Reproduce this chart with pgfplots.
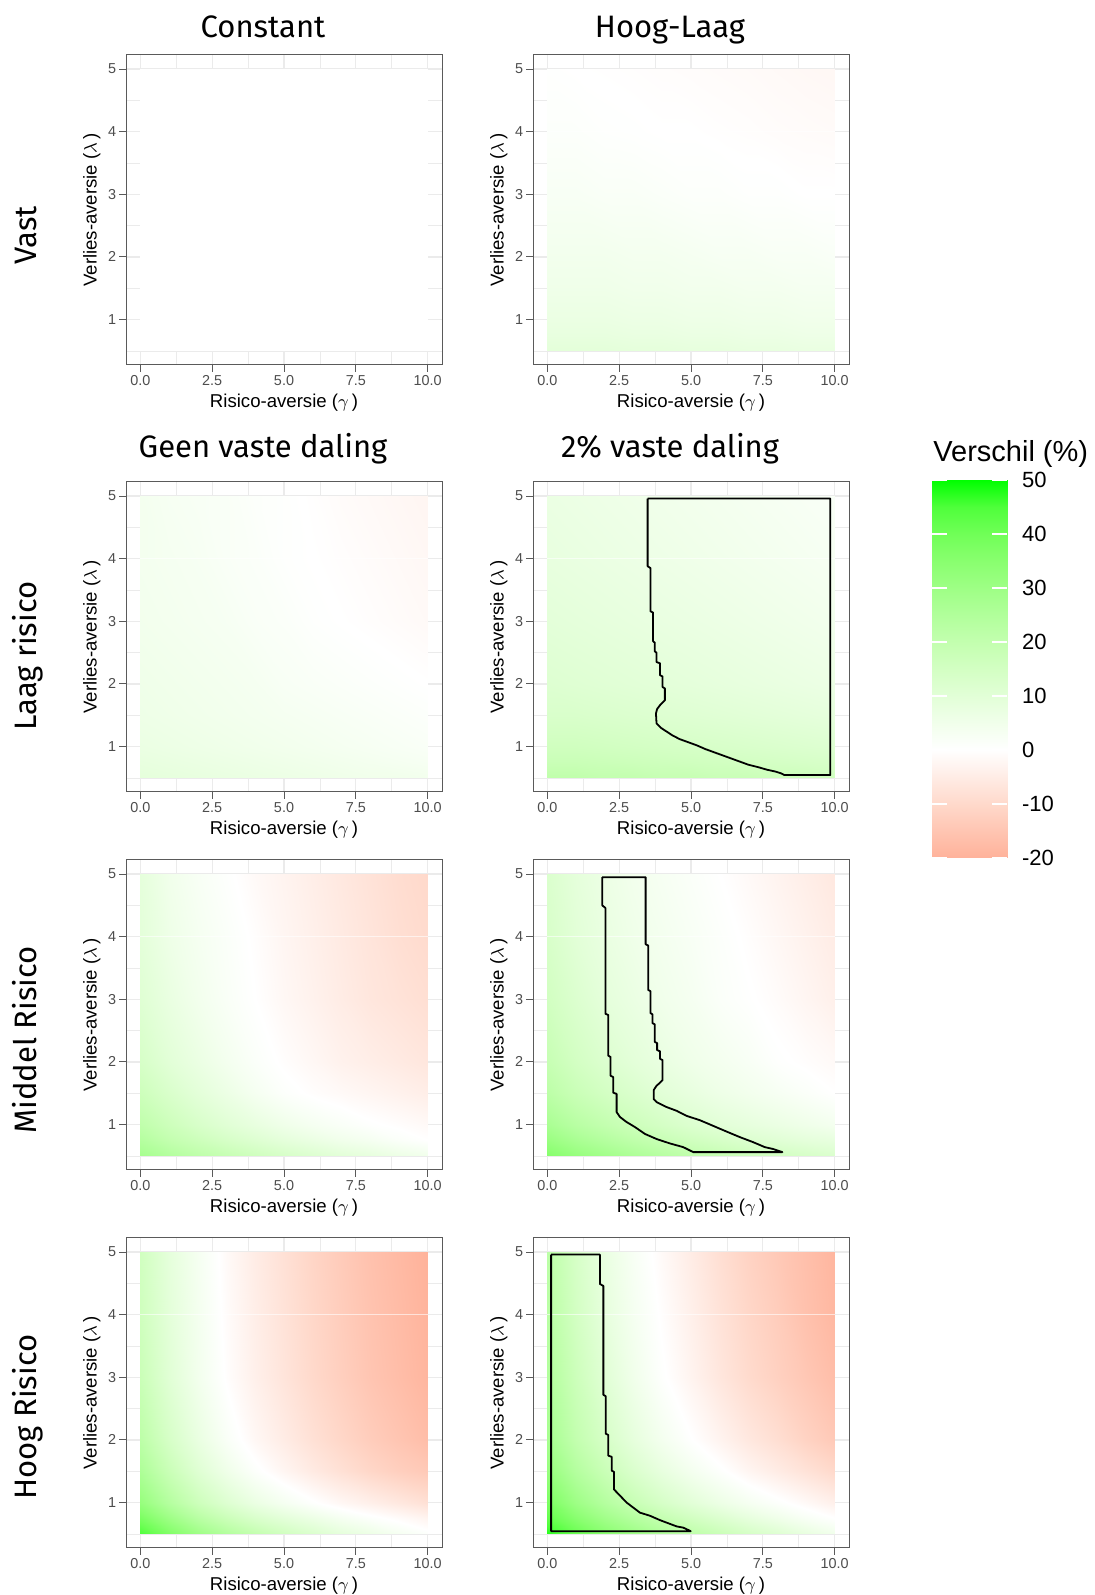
\documentclass[border=0pt]{standalone}
\usepackage{fontspec}
\setmainfont{Liberation Sans}
\newfontfamily\titlefont{Fira Sans}
\usepackage{pgfplots}
\pgfplotsset{compat=1.18}
\definecolor{gridgray}{RGB}{235,235,235}
\definecolor{tickgray}{RGB}{77,77,77}
\definecolor{bordergray}{RGB}{90,90,90}
\pgfplotsset{
 colormap={verschil}{rgb255(0pt)=(255,178,154) rgb255(5pt)=(255,197,178) rgb255(10pt)=(255,217,203) rgb255(15pt)=(255,236,229) rgb255(20pt)=(255,255,255) rgb255(25pt)=(241,255,235) rgb255(30pt)=(226,255,215) rgb255(35pt)=(211,255,195) rgb255(40pt)=(195,255,175) rgb255(45pt)=(177,255,155) rgb255(50pt)=(158,255,133) rgb255(55pt)=(137,255,111) rgb255(60pt)=(112,255,87) rgb255(65pt)=(79,255,59) rgb255(70pt)=(0,255,0)},
 panel/.style={
  scale only axis, width=158pt, height=155pt, anchor=south west,
  xmin=-0.5, xmax=10.5, ymin=0.275, ymax=5.225,
  xtick={0,2.5,5,7.5,10}, xticklabels={0.0,2.5,5.0,7.5,10.0},
  ytick={1,2,3,4,5}, yticklabels={1,2,3,4,5},
  minor xtick={1.25,3.75,6.25,8.75}, minor ytick={0.5,1.5,2.5,3.5,4.5},
  grid=both, major grid style={line width=0.6pt, draw=gridgray}, minor grid style={line width=0.35pt, draw=gridgray},
  tick align=outside, tick pos=left, major tick length=3.5pt, minor tick length=0pt,
  major tick style={draw=bordergray, line width=0.5pt},
  axis line style={draw=bordergray, line width=0.5pt},
  /pgf/number format/assume math mode=true,
  ticklabel style={font=\fontsize{7.2}{8}\selectfont, text=tickgray},
  yticklabel style={inner sep=1.2pt},
  xticklabel style={inner sep=1.5pt},
  xlabel={Risico-aversie ($\gamma$\,)}, ylabel={Verlies-aversie ($\lambda$\,)},
  label style={font=\fontsize{9.3}{11}\selectfont},
  xlabel style={inner sep=1pt, yshift=-1.5pt}, ylabel style={inner sep=1pt, yshift=1.5pt},
  colormap name=verschil, point meta min=-20, point meta max=50,
 },
 heat/.style={surf, shader=interp, mesh/cols=11, point meta=explicit},
 cont/.style={black, line width=0.9pt, line join=round},
 seam/.style={white, opacity=0.6, line width=0.4pt},
}
\begin{document}
\begin{tikzpicture}
\path[use as bounding box] (0,0) rectangle (547.5pt,797.5pt);

% titles
\node[font=\titlefont\fontsize{15.5}{18}\selectfont, anchor=base] at (131.5pt,778.5pt) {Constant};
\node[font=\titlefont\fontsize{15.5}{18}\selectfont, anchor=base] at (335pt,778.5pt) {Hoog-Laag};
\node[font=\titlefont\fontsize{15.5}{18}\selectfont, anchor=base] at (131.5pt,568.5pt) {Geen vaste daling};
\node[font=\titlefont\fontsize{15.5}{18}\selectfont, anchor=base] at (335pt,568.5pt) {2\% vaste daling};
% row labels
\node[font=\titlefont\fontsize{15.5}{18}\selectfont, anchor=base, rotate=90] at (18pt,680pt) {Vast};
\node[font=\titlefont\fontsize{15.5}{18}\selectfont, anchor=base, rotate=90] at (18pt,469.5pt) {Laag risico};
\node[font=\titlefont\fontsize{15.5}{18}\selectfont, anchor=base, rotate=90] at (18pt,277.5pt) {Middel Risico};
\node[font=\titlefont\fontsize{15.5}{18}\selectfont, anchor=base, rotate=90] at (18pt,89pt) {Hoog Risico};

% Row 1 left: Constant / Vast
\begin{axis}[panel, at={(63pt,615pt)}]
\addplot[surf, shader=interp, mesh/cols=2, point meta=explicit] table[row sep=\\, meta=c] {x y c\\ 0 0.5 0\\ 10 0.5 0\\ 0 5 0\\ 10 5 0\\};
\addplot[seam] coordinates {(0,4) (10,4)};
\end{axis}

% Row 1 right: Hoog-Laag / Vast
\begin{axis}[panel, at={(266.5pt,615pt)}]
\addplot[heat] table[row sep=\\, meta=c] {x y c\\
0 0.5 9.5\\1 0.5 9.5\\2 0.5 9.5\\3 0.5 9\\4 0.5 9\\5 0.5 8.5\\6 0.5 8.5\\7 0.5 8\\8 0.5 8\\9 0.5 7.5\\10 0.5 7.5\\
0 0.75 8\\1 0.75 8\\2 0.75 8\\3 0.75 7.5\\4 0.75 7.5\\5 0.75 7\\6 0.75 7\\7 0.75 6.5\\8 0.75 6.5\\9 0.75 6\\10 0.75 6\\
0 1 7\\1 1 7\\2 1 7\\3 1 6.5\\4 1 6.5\\5 1 6\\6 1 6\\7 1 5.5\\8 1 5.5\\9 1 5\\10 1 5\\
0 1.5 5.5\\1 1.5 5.5\\2 1.5 5.5\\3 1.5 5\\4 1.5 5\\5 1.5 4.5\\6 1.5 4.5\\7 1.5 4\\8 1.5 4\\9 1.5 3.5\\10 1.5 3.5\\
0 2 4.5\\1 2 4.5\\2 2 4.5\\3 2 4\\4 2 4\\5 2 3.5\\6 2 3\\7 2 3\\8 2 2.5\\9 2 2.5\\10 2 2\\
0 3 2.5\\1 3 2.5\\2 3 2\\3 3 2\\4 3 1.5\\5 3 1\\6 3 1\\7 3 0.5\\8 3 0.5\\9 3 0\\10 3 0\\
0 4 1\\1 4 1\\2 4 0.5\\3 4 0.3\\4 4 0\\5 4 0\\6 4 -0.3\\7 4 -0.5\\8 4 -0.8\\9 4 -1\\10 4 -1.2\\
0 5 0.3\\1 5 0\\2 5 -0.2\\3 5 -0.4\\4 5 -0.6\\5 5 -0.8\\6 5 -1\\7 5 -1.2\\8 5 -1.5\\9 5 -1.8\\10 5 -2\\
};
\addplot[seam] coordinates {(0,4) (10,4)};
\end{axis}

% Row 2 left: Geen vaste daling / Laag risico
\begin{axis}[panel, at={(63pt,401.5pt)}]
\addplot[heat] table[row sep=\\, meta=c] {x y c\\
0 0.5 9\\1 0.5 8.5\\2 0.5 8\\3 0.5 7.5\\4 0.5 7\\5 0.5 6.5\\6 0.5 6\\7 0.5 5.5\\8 0.5 5\\9 0.5 5\\10 0.5 4.5\\
0 0.75 8\\1 0.75 7.5\\2 0.75 7\\3 0.75 6.5\\4 0.75 6\\5 0.75 5.5\\6 0.75 5\\7 0.75 4.5\\8 0.75 4\\9 0.75 3.5\\10 0.75 3\\
0 1 7\\1 1 6.5\\2 1 6\\3 1 5.5\\4 1 5\\5 1 4.5\\6 1 4\\7 1 3.5\\8 1 3\\9 1 2.5\\10 1 2\\
0 1.5 6\\1 1.5 5.5\\2 1.5 5\\3 1.5 4.5\\4 1.5 4\\5 1.5 3.5\\6 1.5 3\\7 1.5 2.5\\8 1.5 2\\9 1.5 1.5\\10 1.5 1\\
0 2 5.5\\1 2 5\\2 2 4.5\\3 2 4\\4 2 3.5\\5 2 2.5\\6 2 2\\7 2 1.5\\8 2 1\\9 2 0.5\\10 2 0\\
0 3 4.5\\1 3 4\\2 3 3.5\\3 3 3\\4 3 2\\5 3 1.5\\6 3 0.5\\7 3 0\\8 3 -0.5\\9 3 -1\\10 3 -1.5\\
0 4 4\\1 4 3.5\\2 4 3\\3 4 2\\4 4 1.5\\5 4 0.5\\6 4 0\\7 4 -0.5\\8 4 -1\\9 4 -1.5\\10 4 -2\\
0 5 4\\1 5 3\\2 5 2.5\\3 5 2\\4 5 1\\5 5 0.5\\6 5 -0.3\\7 5 -1\\8 5 -1.5\\9 5 -2\\10 5 -2.5\\
};
\addplot[seam] coordinates {(0,4) (10,4)};
\end{axis}

% Row 2 right: 2% vaste daling / Laag risico
\begin{axis}[panel, at={(266.5pt,401.5pt)}]
\addplot[heat] table[row sep=\\, meta=c] {x y c\\
0 0.5 21\\1 0.5 21\\2 0.5 20\\3 0.5 20\\4 0.5 19\\5 0.5 19\\6 0.5 18\\7 0.5 18\\8 0.5 17\\9 0.5 17\\10 0.5 16\\
0 0.75 18\\1 0.75 18\\2 0.75 17.5\\3 0.75 17\\4 0.75 16.5\\5 0.75 16\\6 0.75 15.5\\7 0.75 15\\8 0.75 14.5\\9 0.75 14\\10 0.75 13.5\\
0 1 16\\1 1 16\\2 1 15.5\\3 1 15\\4 1 14.5\\5 1 14\\6 1 13.5\\7 1 13\\8 1 12.5\\9 1 12\\10 1 11.5\\
0 1.5 13\\1 1.5 13\\2 1.5 12.5\\3 1.5 12\\4 1.5 11.5\\5 1.5 11\\6 1.5 10.5\\7 1.5 10\\8 1.5 9.5\\9 1.5 9\\10 1.5 8.5\\
0 2 11.5\\1 2 11\\2 2 10.5\\3 2 10\\4 2 9.5\\5 2 9\\6 2 8.5\\7 2 8\\8 2 7.5\\9 2 7\\10 2 6.5\\
0 3 9.5\\1 3 9\\2 3 8.5\\3 3 8\\4 3 7.5\\5 3 7\\6 3 6.5\\7 3 6\\8 3 5.5\\9 3 5\\10 3 4.5\\
0 4 8\\1 4 7.5\\2 4 7\\3 4 6.5\\4 4 6\\5 4 5.5\\6 4 5\\7 4 4.5\\8 4 4\\9 4 3.5\\10 4 3\\
0 5 7\\1 5 6.5\\2 5 6\\3 5 5.5\\4 5 5\\5 5 4.5\\6 5 4\\7 5 3.5\\8 5 3\\9 5 2.5\\10 5 2\\
};
\addplot[seam] coordinates {(0,4) (10,4)};
\addplot[cont] coordinates {(3.49,4.96) (9.85,4.96) (9.85,0.545) (8.25,0.545) (8.15,0.57) (7.95,0.60) (7.65,0.63) (7.35,0.67) (7.0,0.71) (6.7,0.76) (6.4,0.81) (6.1,0.86) (5.8,0.91) (5.5,0.96) (5.2,1.02) (4.9,1.07) (4.6,1.12) (4.35,1.18) (4.15,1.24) (3.95,1.30) (3.80,1.37) (3.78,1.53) (3.82,1.60) (3.92,1.66) (4.09,1.74) (4.09,1.93) (4.01,1.95) (4.01,2.12) (3.92,2.14) (3.92,2.33) (3.80,2.35) (3.80,2.50) (3.74,2.52) (3.74,2.66) (3.68,2.68) (3.68,3.14) (3.59,3.16) (3.59,3.85) (3.49,3.88) (3.49,4.96)};
\end{axis}

% Row 3 left: Geen vaste daling / Middel Risico
\begin{axis}[panel, at={(63pt,212.5pt)}]
\addplot[heat] table[row sep=\\, meta=c] {x y c\\
0 0.5 28\\1 0.5 24.5\\2 0.5 21.5\\3 0.5 19\\4 0.5 16.5\\5 0.5 14\\6 0.5 12\\7 0.5 10\\8 0.5 8.5\\9 0.5 6.5\\10 0.5 5\\
0 0.75 24\\1 0.75 20\\2 0.75 17\\3 0.75 14\\4 0.75 11.5\\5 0.75 9\\6 0.75 7\\7 0.75 5\\8 0.75 3.5\\9 0.75 1.5\\10 0.75 0\\
0 1 21\\1 1 17\\2 1 13.5\\3 1 10.5\\4 1 8\\5 1 5.5\\6 1 3.5\\7 1 2\\8 1 0.5\\9 1 -0.5\\10 1 -1.5\\
0 1.5 17\\1 1.5 13\\2 1.5 9.5\\3 1.5 6.5\\4 1.5 3.5\\5 1.5 1\\6 1.5 -0.5\\7 1.5 -1.5\\8 1.5 -2.5\\9 1.5 -3.5\\10 1.5 -4.5\\
0 2 14\\1 2 10\\2 2 7\\3 2 4\\4 2 1.5\\5 2 -0.5\\6 2 -2\\7 2 -3.5\\8 2 -4.5\\9 2 -5.5\\10 2 -6.5\\
0 3 11\\1 3 7.5\\2 3 4.5\\3 3 2\\4 3 0\\5 3 -2\\6 3 -3.5\\7 3 -5\\8 3 -6.5\\9 3 -7.5\\10 3 -8.5\\
0 4 9.5\\1 4 6\\2 4 3.5\\3 4 1.5\\4 4 -0.5\\5 4 -2.5\\6 4 -4\\7 4 -5.5\\8 4 -7\\9 4 -8.5\\10 4 -9.5\\
0 5 9\\1 5 5\\2 5 2.5\\3 5 0.5\\4 5 -1.5\\5 5 -3\\6 5 -4.5\\7 5 -6\\8 5 -7.5\\9 5 -9\\10 5 -10\\
};
\addplot[seam] coordinates {(0,4) (10,4)};
\end{axis}

% Row 3 right: 2% vaste daling / Middel Risico
\begin{axis}[panel, at={(266.5pt,212.5pt)}]
\addplot[heat] table[row sep=\\, meta=c] {x y c\\
0 0.5 36\\1 0.5 32\\2 0.5 29\\3 0.5 26\\4 0.5 23.5\\5 0.5 21\\6 0.5 19\\7 0.5 17\\8 0.5 15.5\\9 0.5 14\\10 0.5 12.5\\
0 0.75 31\\1 0.75 27\\2 0.75 24\\3 0.75 21\\4 0.75 18.5\\5 0.75 16\\6 0.75 14\\7 0.75 12\\8 0.75 10.5\\9 0.75 9\\10 0.75 8\\
0 1 27\\1 1 23\\2 1 20\\3 1 17\\4 1 14.5\\5 1 12\\6 1 10\\7 1 8.5\\8 1 7\\9 1 5.5\\10 1 4\\
0 1.5 22\\1 1.5 18\\2 1.5 15\\3 1.5 12.5\\4 1.5 10\\5 1.5 8\\6 1.5 6\\7 1.5 4.5\\8 1.5 3\\9 1.5 1.5\\10 1.5 0\\
0 2 19\\1 2 15\\2 2 12\\3 2 9.5\\4 2 7.5\\5 2 5.5\\6 2 4\\7 2 2.5\\8 2 0.5\\9 2 -0.5\\10 2 -1.5\\
0 3 15.5\\1 3 12\\2 3 9\\3 3 7\\4 3 5\\5 3 3.5\\6 3 1.5\\7 3 0.3\\8 3 -1\\9 3 -2.5\\10 3 -4\\
0 4 13.5\\1 4 10\\2 4 7.5\\3 4 5.5\\4 4 4\\5 4 2.5\\6 4 1\\7 4 -0.5\\8 4 -2\\9 4 -3.5\\10 4 -5\\
0 5 12.5\\1 5 9\\2 5 6.5\\3 5 4.5\\4 5 3\\5 5 1.5\\6 5 0\\7 5 -1.5\\8 5 -3\\9 5 -4.5\\10 5 -6\\
};
\addplot[seam] coordinates {(0,4) (10,4)};
\addplot[cont] coordinates {(1.91,4.95) (3.42,4.95) (3.42,3.88) (3.51,3.86) (3.51,3.15) (3.59,3.13) (3.59,2.78) (3.66,2.76) (3.66,2.62) (3.74,2.60) (3.74,2.32) (3.82,2.30) (3.82,2.19) (3.92,2.17) (3.92,2.05) (4.01,2.03) (4.01,1.71) (3.90,1.66) (3.80,1.62) (3.70,1.55) (3.70,1.41) (3.80,1.36) (4.15,1.28) (4.50,1.22) (4.84,1.14) (5.31,1.07) (5.77,0.98) (6.23,0.89) (6.70,0.80) (7.16,0.72) (7.57,0.64) (7.86,0.61) (8.18,0.56) (5.08,0.56) (4.73,0.64) (4.26,0.70) (3.80,0.77) (3.40,0.85) (3.05,0.96) (2.76,1.04) (2.53,1.12) (2.41,1.20) (2.41,1.49) (2.29,1.51) (2.29,1.76) (2.20,1.78) (2.20,2.08) (2.12,2.10) (2.12,2.75) (2.02,2.77) (2.02,4.46) (1.91,4.50) (1.91,4.95)};
\end{axis}

% Row 4 left: Geen vaste daling / Hoog Risico
\begin{axis}[panel, at={(63pt,23.5pt)}]
\addplot[heat] table[row sep=\\, meta=c] {x y c\\
0 0.5 45\\1 0.5 37\\2 0.5 30\\3 0.5 24.5\\4 0.5 20\\5 0.5 16\\6 0.5 12.5\\7 0.5 9\\8 0.5 6.5\\9 0.5 3.5\\10 0.5 1\\
0 0.75 38\\1 0.75 30\\2 0.75 23\\3 0.75 17.5\\4 0.75 13\\5 0.75 9.5\\6 0.75 6.5\\7 0.75 3.5\\8 0.75 1\\9 0.75 -1\\10 0.75 -3\\
0 1 32\\1 1 24\\2 1 17\\3 1 11.5\\4 1 7\\5 1 3.5\\6 1 0.5\\7 1 -2\\8 1 -4\\9 1 -6\\10 1 -8\\
0 1.5 26\\1 1.5 18\\2 1.5 11\\3 1.5 5.5\\4 1.5 1\\5 1.5 -2.5\\6 1.5 -5.5\\7 1.5 -8\\8 1.5 -10.5\\9 1.5 -12.5\\10 1.5 -14\\
0 2 22\\1 2 14\\2 2 7.5\\3 2 2\\4 2 -2\\5 2 -5\\6 2 -8\\7 2 -10.5\\8 2 -13\\9 2 -15\\10 2 -17\\
0 3 18\\1 3 10.5\\2 3 4.5\\3 3 -0.5\\4 3 -4\\5 3 -7\\6 3 -10\\7 3 -12.5\\8 3 -15\\9 3 -17\\10 3 -19\\
0 4 16.5\\1 4 9.5\\2 4 4\\3 4 -1\\4 4 -4.5\\5 4 -7.5\\6 4 -10.5\\7 4 -13\\8 4 -15.5\\9 4 -17.5\\10 4 -19.5\\
0 5 16\\1 5 9\\2 5 3.5\\3 5 -1.5\\4 5 -5\\5 5 -8\\6 5 -11\\7 5 -13.5\\8 5 -16\\9 5 -18\\10 5 -20\\
};
\addplot[seam] coordinates {(0,4) (10,4)};
\end{axis}

% Row 4 right: 2% vaste daling / Hoog Risico
\begin{axis}[panel, at={(266.5pt,23.5pt)}]
\addplot[heat] table[row sep=\\, meta=c] {x y c\\
0 0.5 48\\1 0.5 41\\2 0.5 35\\3 0.5 30\\4 0.5 25.5\\5 0.5 21.5\\6 0.5 18\\7 0.5 14.5\\8 0.5 11.5\\9 0.5 8\\10 0.5 5\\
0 0.75 42\\1 0.75 35\\2 0.75 29\\3 0.75 24\\4 0.75 19.5\\5 0.75 15.5\\6 0.75 12\\7 0.75 8.5\\8 0.75 5.5\\9 0.75 2.5\\10 0.75 0\\
0 1 38\\1 1 30\\2 1 24\\3 1 18.5\\4 1 14\\5 1 10\\6 1 6.5\\7 1 3.5\\8 1 1\\9 1 -1.5\\10 1 -4\\
0 1.5 32\\1 1.5 24\\2 1.5 18\\3 1.5 12.5\\4 1.5 8\\5 1.5 4\\6 1.5 0.7\\7 1.5 -2.5\\8 1.5 -5\\9 1.5 -7.5\\10 1.5 -10\\
0 2 28\\1 2 20\\2 2 14\\3 2 8.5\\4 2 4\\5 2 0.2\\6 2 -3\\7 2 -6\\8 2 -8.5\\9 2 -11.5\\10 2 -14\\
0 3 25\\1 3 17\\2 3 10.5\\3 3 5\\4 3 0.5\\5 3 -3\\6 3 -6.5\\7 3 -9.5\\8 3 -12\\9 3 -14.5\\10 3 -17\\
0 4 23\\1 4 15\\2 4 8.5\\3 4 3.5\\4 4 -0.5\\5 4 -4\\6 4 -7.5\\7 4 -10.5\\8 4 -13\\9 4 -16\\10 4 -18.5\\
0 5 22\\1 5 14\\2 5 7.5\\3 5 2.5\\4 5 -1.5\\5 5 -5\\6 5 -8.5\\7 5 -11.5\\8 5 -14\\9 5 -16.5\\10 5 -19\\
};
\addplot[seam] coordinates {(0,4) (10,4)};
\addplot[cont] coordinates {(0.13,4.96) (1.83,4.96) (1.83,4.49) (1.95,4.46) (1.95,2.72) (2.03,2.70) (2.03,2.10) (2.12,2.08) (2.12,1.75) (2.24,1.73) (2.24,1.51) (2.32,1.49) (2.32,1.21) (2.53,1.11) (2.76,1.00) (2.99,0.92) (3.22,0.84) (3.57,0.79) (3.92,0.72) (4.15,0.68) (4.50,0.62) (4.73,0.60) (4.99,0.544) (0.13,0.544) (0.13,4.96)};
\end{axis}

% Colour bar
\node[font=\fontsize{14.5}{17}\selectfont, anchor=base west, inner sep=0pt] at (466.5pt,566.5pt) {Verschil (\%)};
\begin{axis}[at={(466pt,368.5pt)}, anchor=south west, scale only axis, width=37.5pt, height=189pt,
  xmin=0, xmax=1, ymin=-20, ymax=50, axis on top,
  axis line style={draw=none}, xtick=\empty,
  ytick={-20,-10,0,10,20,30,40,50}, yticklabels={-20,-10,0,10,20,30,40,50},
  ytick pos=both, yticklabel pos=right, tick align=inside, major tick length=7.5pt,
  major tick style={draw=white, line width=0.6pt},
  yticklabel style={font=\fontsize{11}{13}\selectfont, anchor=west, xshift=4pt},
  colormap name=verschil, point meta min=-20, point meta max=50]
\addplot[surf, shader=interp, mesh/cols=2, point meta=explicit] table[row sep=\\, meta=c] {x y c\\
0 -20 -20\\1 -20 -20\\0 -15 -15\\1 -15 -15\\0 -10 -10\\1 -10 -10\\0 -5 -5\\1 -5 -5\\0 0 0\\1 0 0\\
0 5 5\\1 5 5\\0 10 10\\1 10 10\\0 15 15\\1 15 15\\0 20 20\\1 20 20\\0 25 25\\1 25 25\\0 30 30\\1 30 30\\
0 35 35\\1 35 35\\0 40 40\\1 40 40\\0 45 45\\1 45 45\\0 50 50\\1 50 50\\
};
\end{axis}
\end{tikzpicture}
\end{document}
